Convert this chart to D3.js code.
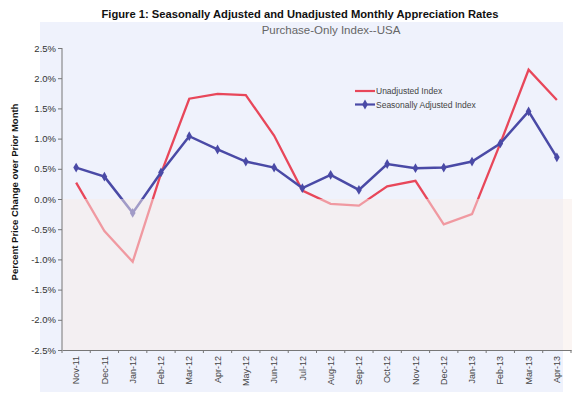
<!DOCTYPE html>
<html>
<head>
<meta charset="utf-8">
<script src="https://cdn.jsdelivr.net/npm/d3@7"></script>
<style>
  body { margin: 0; background: #fff; }
  text { font-family: "Liberation Sans", Arial, sans-serif; }
</style>
</head>
<body>
<script>
let months = ["Nov-11", "Dec-11", "Jan-12", "Feb-12", "Mar-12", "Apr-12", "May-12", "Jun-12", "Jul-12",
    "Aug-12", "Sep-12", "Oct-12", "Nov-12", "Dec-12", "Jan-13", "Feb-13", "Mar-13", "Apr-13"];
let unadjusted = [0.27, -0.53, -1.04, 0.42, 1.66, 1.74, 1.72, 1.05, 0.14, -0.08, -0.11, 0.21, 0.30, -0.42, -0.25, 0.92, 2.14, 1.64];
let seasonal = [0.52, 0.37, -0.23, 0.44, 1.04, 0.82, 0.62, 0.52, 0.18, 0.40, 0.15, 0.58, 0.51, 0.52, 0.62, 0.92, 1.45, 0.69];
let yTicks = [-2.5, -2.0, -1.5, -1.0, -0.5, 0.0, 0.5, 1.0, 1.5, 2.0, 2.5];

let W = 580, H = 393;
let svg = d3.select("body").append("svg")
    .attr("width", W)
    .attr("height", H);

let x = d3.scaleBand().domain(months).range([62, 571]);
let y = d3.scaleLinear().domain([-2.5, 2.5]).range([350, 48]);

// background panel
svg.append("rect")
    .attr("x", 40).attr("y", 22)
    .attr("width", 523).attr("height", 370)
    .attr("fill", "#eff2fc");

// title
svg.append("text")
    .attr("x", 300).attr("y", 18)
    .attr("text-anchor", "middle")
    .attr("font-size", 11.2)
    .attr("font-weight", "bold")
    .attr("fill", "#111")
    .text("Figure 1: Seasonally Adjusted and Unadjusted Monthly Appreciation Rates");

svg.append("text")
    .attr("x", 331).attr("y", 34)
    .attr("text-anchor", "middle")
    .attr("font-size", 11.5)
    .attr("fill", "#666")
    .text("Purchase-Only Index--USA");

// lines
let line = d3.line()
    .x((d, i) => x(months[i]) + x.bandwidth() / 2)
    .y(d => y(d));

svg.append("path")
    .datum(unadjusted)
    .attr("d", line)
    .attr("fill", "none")
    .attr("stroke", "#e8475a")
    .attr("stroke-width", 2.3);

svg.append("path")
    .datum(seasonal)
    .attr("d", line)
    .attr("fill", "none")
    .attr("stroke", "#4a4aa6")
    .attr("stroke-width", 2.5);

let diamond = d3.symbol().type(d3.symbolDiamond).size(28);
svg.selectAll(".pt")
    .data(seasonal)
    .join("path")
    .attr("class", "pt")
    .attr("transform", (d, i) => `translate(${x(months[i]) + x.bandwidth() / 2},${y(d)})`)
    .attr("d", diamond)
    .attr("fill", "#4a4aa6");

// negative region overlay
svg.append("rect")
    .attr("x", 62).attr("y", y(0))
    .attr("width", 510).attr("height", y(-2.5) - y(0))
    .attr("fill", "#f7ebe8")
    .attr("opacity", 0.5);

// axes
let yAxis = svg.append("g")
    .attr("transform", "translate(62,0)")
    .call(d3.axisLeft(y).tickValues(yTicks).tickSize(4).tickFormat(d => d.toFixed(1) + "%"));
yAxis.select(".domain").attr("stroke", "#777").attr("d", "M0," + y(2.5) + "V" + y(-2.5));
yAxis.selectAll(".tick line").attr("stroke", "#777");
yAxis.selectAll(".tick text")
    .attr("font-size", 9.5)
    .attr("fill", "#333")
    .attr("x", -6);

let xAxis = svg.append("g")
    .attr("transform", "translate(0,350)")
    .call(d3.axisBottom(x).tickSize(0));
xAxis.select(".domain").attr("stroke", "#777");
xAxis.selectAll(".tick text")
    .attr("font-size", 9)
    .attr("fill", "#444")
    .attr("transform", "rotate(-90)")
    .attr("text-anchor", "end")
    .attr("x", -6)
    .attr("y", 0)
    .attr("dy", "0.35em");

// tick marks between categories
let bounds = months.map(m => x(m)).concat([x.range()[1]]);
xAxis.selectAll(".sep")
    .data(bounds)
    .join("line")
    .attr("class", "sep")
    .attr("x1", d => d).attr("x2", d => d)
    .attr("y1", 0).attr("y2", 3)
    .attr("stroke", "#777");

// y axis title
svg.append("text")
    .attr("transform", "translate(18,192) rotate(-90)")
    .attr("text-anchor", "middle")
    .attr("font-size", 9.5)
    .attr("font-weight", "bold")
    .attr("fill", "#111")
    .text("Percent Price Change over Prior Month");

// legend
let legend = [
    { name: "Unadjusted Index", color: "#e8475a", marker: false },
    { name: "Seasonally Adjusted Index", color: "#4a4aa6", marker: true }
];
legend.forEach((l, i) => {
    let ly = 91 + i * 13.5;
    svg.append("line")
        .attr("x1", 355).attr("x2", 375)
        .attr("y1", ly).attr("y2", ly)
        .attr("stroke", l.color)
        .attr("stroke-width", 2.2);
    if (l.marker) {
        svg.append("path")
            .attr("transform", `translate(365,${ly})`)
            .attr("d", diamond)
            .attr("fill", l.color);
    }
    svg.append("text")
        .attr("x", 376).attr("y", ly + 3)
        .attr("font-size", 8.5)
        .attr("fill", "#444")
        .text(l.name);
});
</script>
</body>
</html>
